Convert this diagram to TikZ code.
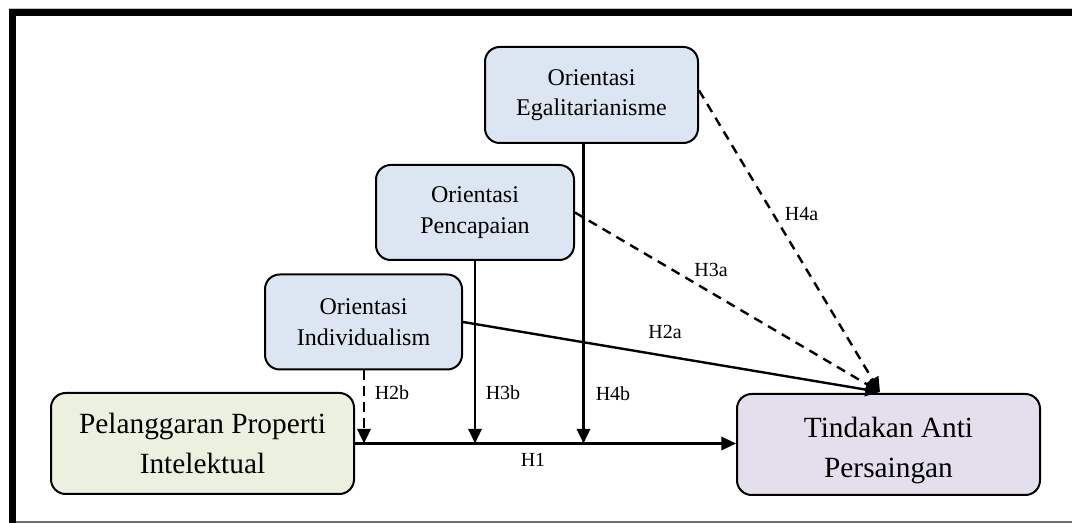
\documentclass[tikz,border=0pt]{standalone}
\usepackage{fontspec}
\setmainfont{Liberation Serif}
\usetikzlibrary{arrows.meta,calc}
\definecolor{boxblue}{RGB}{220,230,242}
\definecolor{boxgreen}{RGB}{235,241,222}
\definecolor{boxpurple}{RGB}{228,223,236}
\definecolor{framegrey}{RGB}{110,110,110}
\tikzset{
  smallbox/.style={draw=black, line width=1.5pt, rounded corners=11pt, fill=boxblue,
    align=center, font=\fontsize{18}{23}\selectfont, inner sep=0pt},
  bigbox/.style={draw=black, line width=1.5pt, rounded corners=11pt,
    align=center, font=\fontsize{22}{30.5}\selectfont, inner sep=0pt},
  bigtext/.style={align=center, font=\fontsize{22}{30.5}\selectfont, inner sep=0pt},
  conn/.style={line width=1.8pt, -{Triangle[length=11pt,width=10pt]}},
  dconn/.style={conn, dash pattern=on 7pt off 5pt},
  hlab/.style={font=\fontsize{15}{18}\selectfont, inner sep=0pt}
}
\begin{document}
\begin{tikzpicture}[x=0.75pt,y=-0.75pt]
\useasboundingbox (0,0) rectangle (1072,523);
% frame
\fill[black] (9,9.5) rectangle (16,523);
\fill[black] (9,9.5) rectangle (1072,16);
\draw[black!25, line width=0.8pt] (9,8.8) -- (1072,8.8);
\draw[framegrey, line width=1.2pt] (16,521.8) -- (1072,521.8);

% boxes
\node[smallbox, minimum width=213*0.75pt, minimum height=96*0.75pt] (egal) at (591.5,95) {Orientasi\\Egalitarianisme};
\node[smallbox, minimum width=198*0.75pt, minimum height=95*0.75pt] (pen) at (475,212.5) {Orientasi\\Pencapaian};
\node[smallbox, minimum width=197*0.75pt, minimum height=95*0.75pt] (ind) at (363.5,322) {Orientasi\\Individualism};
\node[bigbox, fill=boxgreen, minimum width=303*0.75pt, minimum height=101*0.75pt] (pel) at (202.5,443.5) {Pelanggaran Properti\\Intelektual};
\node[bigbox, fill=boxpurple, minimum width=303*0.75pt, minimum height=101*0.75pt] (tin) at (888.5,444.5) {};
\node[bigtext] (tintext) at ([yshift=-4.5pt]tin.center) {Tindakan Anti\\Persaingan};

% junction points on H1
\coordinate (j2) at (364,443.5);
\coordinate (j4) at (583.5,443.5);
\coordinate (tip) at (880,392);

% H1
\draw[conn] (pel.east) -- (pel.east -| tin.west);
% moderations
\draw[dconn] (ind.south -| j2) -- (j2);
\draw[conn] (pen.south) -- (pen.south |- j2);
\draw[conn] (egal.south -| j4) -- (j4);
% direct effects
\draw[conn] (ind.east) -- (tip);
\draw[dconn] (pen.east) -- (tip);
\draw[dconn] ([yshift=3.5pt]egal.east) -- (tip);

% labels
\node[hlab] (lh1) at (533,460) {H1};
\node[hlab] (lh2b) at (392,393) {H2b};
\node[hlab] (lh3b) at (503,393) {H3b};
\node[hlab] (lh4b) at (613,394) {H4b};
\node[hlab] (lh2a) at (665,332) {H2a};
\node[hlab] (lh3a) at (711,270) {H3a};
\node[hlab] (lh4a) at (801.5,214) {H4a};
\end{tikzpicture}
\end{document}
